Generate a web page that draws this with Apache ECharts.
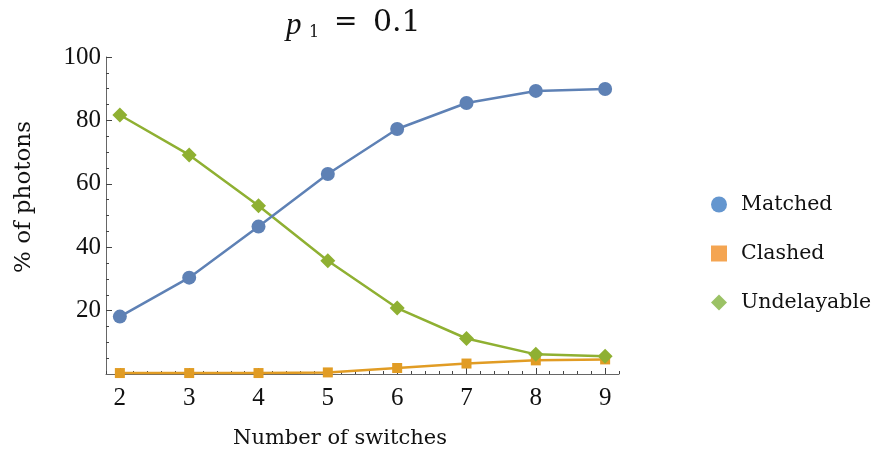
<!DOCTYPE html>
<html>
<head>
<meta charset="utf-8">
<script src="https://cdn.jsdelivr.net/npm/echarts@6/dist/echarts.min.js"></script>
<style>html,body{margin:0;padding:0;background:#fff}#c{width:875px;height:452px}</style>
</head>
<body>
<div id="c"></div>
<script>
var switches = [2, 3, 4, 5, 6, 7, 8, 9];
var matched = [18.1, 30.4, 46.5, 63.1, 77.3, 85.5, 89.3, 89.9];
var clashed = [0.3, 0.3, 0.3, 0.5, 1.9, 3.3, 4.3, 4.6];
var undelayable = [81.7, 69.1, 53.1, 35.7, 20.8, 11.2, 6.2, 5.6];
var xTicks = [2, 3, 4, 5, 6, 7, 8, 9];
var xMinorTicks = [1.8, 2.2, 2.4, 2.6, 2.8, 3.2, 3.4, 3.6, 3.8, 4.2, 4.4, 4.6, 4.8, 5.2, 5.4, 5.6, 5.8, 6.2, 6.4, 6.6, 6.8, 7.2, 7.4, 7.6, 7.8, 8.2, 8.4, 8.6, 8.8, 9.2];
var yTicks = [20, 40, 60, 80, 100];
var yMinorTicks = [5, 10, 15, 25, 30, 35, 45, 50, 55, 65, 70, 75, 85, 90, 95];
var seriesNames = ['Matched', 'Clashed', 'Undelayable'];
var lineColors = ['#5E81B5', '#E19C24', '#8FB032'];
var legendColors = ['#6496CF', '#F4A552', '#9BC265'];

var NUMFONT = 'Liberation Serif';
var WORDFONT = 'DejaVu Serif';
function pair(xs, ys) { return xs.map(function (x, i) { return [x, ys[i]]; }); }

var chart = echarts.init(document.getElementById('c'), null, { renderer: 'canvas' });
var axisLine = { show: true, lineStyle: { color: '#666', width: 1 } };
chart.setOption({
  animation: false,
  backgroundColor: '#fff',
  grid: { left: 106, right: 256, top: 57, bottom: 78, containLabel: false },
  xAxis: [
    {
      type: 'value', min: 1.8, max: 9.2, position: 'bottom',
      axisLine: axisLine,
      axisTick: { show: true, inside: true, length: 6, customValues: xTicks, lineStyle: { color: '#444' } },
      axisLabel: { show: true, customValues: xTicks, color: '#111', fontFamily: NUMFONT, fontSize: 25, margin: 12 },
      splitLine: { show: false }
    },
    {
      type: 'value', min: 1.8, max: 9.2, position: 'bottom',
      axisLine: { show: false },
      axisTick: { show: true, inside: true, length: 3, customValues: xMinorTicks, lineStyle: { color: '#444' } },
      axisLabel: { show: false },
      splitLine: { show: false }
    }
  ],
  yAxis: [
    {
      type: 'value', min: 0, max: 100, position: 'left',
      axisLine: axisLine,
      axisTick: { show: true, inside: true, length: 6, customValues: yTicks, lineStyle: { color: '#444' } },
      axisLabel: { show: true, customValues: yTicks, color: '#111', fontFamily: NUMFONT, fontSize: 25, margin: 5 },
      splitLine: { show: false }
    },
    {
      type: 'value', min: 0, max: 100, position: 'left',
      axisLine: { show: false },
      axisTick: { show: true, inside: true, length: 3, customValues: yMinorTicks, lineStyle: { color: '#444' } },
      axisLabel: { show: false },
      splitLine: { show: false }
    }
  ],
  legend: {
    orient: 'vertical', left: 706, top: 189,
    itemWidth: 16, itemHeight: 16, itemGap: 28,
    textStyle: { fontFamily: WORDFONT, fontSize: 20.5, color: '#111', padding: [0, 0, 0, 9] },
    data: [
      { name: seriesNames[0], icon: 'circle', itemStyle: { color: legendColors[0] } },
      { name: seriesNames[1], icon: 'rect', itemStyle: { color: legendColors[1] } },
      { name: seriesNames[2], icon: 'diamond', itemStyle: { color: legendColors[2] } }
    ]
  },
  series: [
    { name: seriesNames[0], type: 'line', data: pair(switches, matched), symbol: 'circle', symbolSize: 14,
      itemStyle: { color: lineColors[0] }, lineStyle: { width: 2.5, color: lineColors[0] }, z: 3 },
    { name: seriesNames[1], type: 'line', data: pair(switches, clashed), symbol: 'rect', symbolSize: 10,
      itemStyle: { color: lineColors[1] }, lineStyle: { width: 2.5, color: lineColors[1] }, z: 2 },
    { name: seriesNames[2], type: 'line', data: pair(switches, undelayable), symbol: 'diamond', symbolSize: 15,
      itemStyle: { color: lineColors[2] }, lineStyle: { width: 2.5, color: lineColors[2] }, z: 2 }
  ],
  graphic: [
    { type: 'text', left: 286, top: 10, style: { text: 'p', font: 'italic 31px "Liberation Serif"', fill: '#111' } },
    { type: 'text', left: 309, top: 25, style: { text: '1', font: '16px "DejaVu Serif"', fill: '#111' } },
    { type: 'text', left: 334, top: 9, style: { text: '=', font: '28px "DejaVu Serif"', fill: '#111' } },
    { type: 'text', left: 373, top: 8, style: { text: '0.1', font: '30px "DejaVu Serif"', fill: '#111' } },
    { type: 'text', x: 340, y: 439, style: { text: 'Number of switches', font: '21px "DejaVu Serif"', fill: '#111', align: 'center', verticalAlign: 'middle' } },
    { type: 'text', x: 24, y: 197, rotation: Math.PI / 2, style: { text: '% of photons', font: '23px "DejaVu Serif"', fill: '#111', align: 'center', verticalAlign: 'middle' } }
  ]
});
</script>
</body>
</html>
